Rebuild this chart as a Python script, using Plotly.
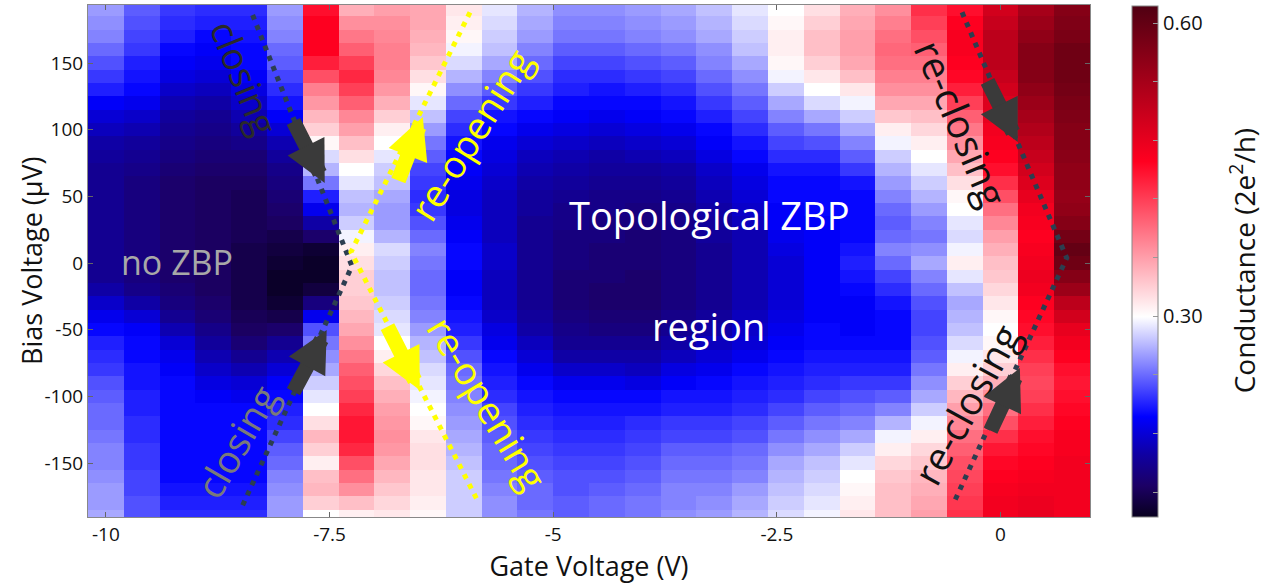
import numpy as np
import plotly.graph_objects as go

# ---------------- data ----------------
gate_voltage = [-10.0, -9.6, -9.2, -8.8, -8.4, -8.0, -7.6, -7.2, -6.8, -6.4,
                -6.0, -5.6, -5.2, -4.8, -4.4, -4.0, -3.6, -3.2, -2.8, -2.4,
                -2.0, -1.6, -1.2, -0.8, -0.4, 0.0, 0.4, 0.8]

bias_voltage = [190, 180, 170, 160, 150, 140, 130, 120, 110, 100,
                90, 80, 70, 60, 50, 40, 30, 20, 10, 0,
                -10, -20, -30, -40, -50, -60, -70, -80, -90, -100,
                -110, -120, -130, -140, -150, -160, -170, -180, -190]

# conductance (2e^2/h) per gate-voltage column, listed from +190 uV down to -190 uV
c00 = [0.26,0.255,0.25,0.24,0.23,0.22,0.21,0.195,0.18,0.17,0.16,0.155,0.15,0.15,0.15,0.15,0.15,0.15,0.15,0.15,0.15,0.16,0.175,0.19,0.2,0.21,0.215,0.22,0.23,0.235,0.24,0.24,0.245,0.25,0.25,0.255,0.26,0.26,0.265]
c01 = [0.235,0.23,0.225,0.22,0.21,0.205,0.2,0.19,0.175,0.165,0.155,0.15,0.145,0.14,0.14,0.14,0.14,0.14,0.14,0.14,0.14,0.145,0.16,0.18,0.195,0.2,0.2,0.205,0.205,0.21,0.21,0.215,0.215,0.22,0.22,0.225,0.225,0.23,0.23]
c02 = [0.22,0.215,0.21,0.2,0.195,0.185,0.175,0.165,0.155,0.15,0.145,0.14,0.135,0.13,0.13,0.13,0.13,0.13,0.13,0.13,0.13,0.135,0.14,0.15,0.165,0.18,0.19,0.195,0.2,0.2,0.2,0.2,0.2,0.2,0.2,0.2,0.205,0.21,0.215]
c03 = [0.215,0.21,0.2,0.195,0.19,0.18,0.17,0.16,0.15,0.145,0.14,0.135,0.13,0.125,0.125,0.125,0.125,0.125,0.125,0.125,0.125,0.125,0.13,0.135,0.145,0.155,0.165,0.175,0.185,0.195,0.2,0.2,0.2,0.2,0.2,0.2,0.205,0.21,0.215]
c04 = [0.215,0.21,0.205,0.2,0.2,0.195,0.185,0.175,0.165,0.155,0.145,0.135,0.13,0.125,0.12,0.12,0.12,0.12,0.115,0.115,0.115,0.115,0.115,0.12,0.125,0.135,0.15,0.165,0.18,0.19,0.2,0.2,0.2,0.2,0.2,0.2,0.205,0.21,0.215]
c05 = [0.26,0.255,0.25,0.24,0.235,0.225,0.215,0.205,0.195,0.18,0.165,0.155,0.145,0.14,0.135,0.13,0.125,0.115,0.11,0.105,0.10,0.10,0.105,0.115,0.13,0.15,0.165,0.18,0.195,0.2,0.21,0.215,0.225,0.235,0.24,0.25,0.255,0.26,0.26]
c06 = [0.45,0.46,0.46,0.46,0.44,0.41,0.38,0.365,0.345,0.33,0.305,0.285,0.27,0.245,0.21,0.19,0.16,0.13,0.105,0.10,0.10,0.11,0.14,0.19,0.23,0.245,0.255,0.265,0.28,0.29,0.30,0.32,0.345,0.33,0.31,0.34,0.345,0.33,0.30]
c07 = [0.35,0.37,0.385,0.40,0.42,0.435,0.42,0.40,0.375,0.36,0.34,0.32,0.30,0.29,0.275,0.27,0.28,0.295,0.31,0.32,0.33,0.33,0.335,0.345,0.355,0.37,0.385,0.40,0.41,0.42,0.435,0.445,0.445,0.435,0.41,0.39,0.37,0.34,0.31]
c08 = [0.36,0.37,0.375,0.38,0.38,0.375,0.365,0.35,0.33,0.31,0.30,0.29,0.28,0.275,0.265,0.26,0.26,0.27,0.285,0.28,0.275,0.275,0.28,0.285,0.29,0.30,0.31,0.325,0.34,0.35,0.36,0.365,0.37,0.365,0.355,0.345,0.335,0.325,0.315]
c09 = [0.355,0.355,0.35,0.345,0.335,0.32,0.305,0.29,0.275,0.26,0.245,0.235,0.225,0.22,0.215,0.22,0.23,0.24,0.25,0.245,0.24,0.24,0.245,0.25,0.26,0.27,0.275,0.285,0.29,0.295,0.30,0.305,0.315,0.32,0.32,0.315,0.315,0.31,0.305]
c10 = [0.315,0.31,0.305,0.295,0.285,0.27,0.255,0.24,0.225,0.215,0.205,0.2,0.195,0.19,0.185,0.185,0.19,0.195,0.2,0.2,0.195,0.195,0.2,0.205,0.21,0.22,0.23,0.24,0.245,0.25,0.255,0.26,0.265,0.27,0.275,0.28,0.28,0.28,0.28]
c11 = [0.29,0.285,0.28,0.275,0.265,0.25,0.235,0.22,0.205,0.2,0.19,0.185,0.18,0.175,0.17,0.17,0.17,0.17,0.175,0.175,0.17,0.17,0.17,0.175,0.185,0.19,0.2,0.205,0.21,0.215,0.225,0.23,0.235,0.24,0.24,0.245,0.25,0.255,0.255]
c12 = [0.27,0.265,0.26,0.25,0.24,0.23,0.22,0.21,0.2,0.19,0.18,0.17,0.165,0.16,0.155,0.155,0.15,0.15,0.15,0.15,0.15,0.15,0.15,0.155,0.16,0.17,0.18,0.19,0.2,0.205,0.21,0.215,0.22,0.225,0.23,0.235,0.24,0.24,0.245]
c13 = [0.255,0.25,0.245,0.235,0.225,0.215,0.21,0.2,0.195,0.185,0.175,0.165,0.16,0.155,0.15,0.145,0.145,0.14,0.14,0.14,0.135,0.135,0.135,0.14,0.145,0.15,0.16,0.175,0.19,0.2,0.205,0.21,0.215,0.22,0.225,0.23,0.23,0.235,0.235]
c14 = [0.255,0.25,0.245,0.235,0.225,0.215,0.205,0.2,0.19,0.18,0.17,0.16,0.155,0.15,0.145,0.145,0.14,0.14,0.135,0.135,0.135,0.13,0.13,0.135,0.14,0.15,0.16,0.175,0.19,0.2,0.205,0.21,0.215,0.22,0.225,0.23,0.235,0.24,0.24]
c15 = [0.26,0.255,0.25,0.24,0.23,0.22,0.21,0.2,0.195,0.185,0.175,0.165,0.155,0.15,0.145,0.14,0.14,0.135,0.135,0.135,0.13,0.13,0.13,0.135,0.14,0.15,0.16,0.17,0.185,0.2,0.205,0.215,0.22,0.225,0.23,0.235,0.24,0.245,0.245]
c16 = [0.265,0.26,0.255,0.245,0.235,0.225,0.215,0.205,0.2,0.19,0.18,0.17,0.16,0.155,0.15,0.145,0.145,0.14,0.14,0.14,0.14,0.14,0.14,0.145,0.15,0.16,0.17,0.185,0.195,0.205,0.21,0.22,0.225,0.235,0.24,0.245,0.25,0.25,0.255]
c17 = [0.275,0.27,0.265,0.255,0.25,0.24,0.23,0.22,0.21,0.2,0.195,0.185,0.175,0.17,0.165,0.16,0.155,0.155,0.15,0.15,0.15,0.15,0.15,0.155,0.16,0.17,0.18,0.19,0.2,0.205,0.21,0.22,0.225,0.235,0.24,0.245,0.25,0.255,0.26]
c18 = [0.29,0.285,0.28,0.275,0.265,0.255,0.245,0.235,0.225,0.215,0.205,0.2,0.19,0.185,0.18,0.175,0.17,0.165,0.165,0.165,0.165,0.165,0.165,0.17,0.175,0.18,0.19,0.2,0.205,0.21,0.215,0.225,0.23,0.24,0.245,0.25,0.26,0.265,0.27]
c19 = [0.30,0.305,0.31,0.31,0.305,0.295,0.28,0.265,0.25,0.235,0.225,0.215,0.205,0.2,0.2,0.195,0.195,0.19,0.185,0.18,0.18,0.18,0.18,0.185,0.19,0.195,0.2,0.205,0.21,0.215,0.225,0.235,0.245,0.255,0.265,0.27,0.275,0.28,0.285]
c20 = [0.32,0.33,0.34,0.34,0.33,0.315,0.3,0.285,0.265,0.245,0.23,0.215,0.205,0.2,0.2,0.2,0.195,0.195,0.195,0.195,0.195,0.195,0.195,0.195,0.2,0.2,0.205,0.21,0.215,0.225,0.235,0.245,0.255,0.265,0.275,0.28,0.285,0.29,0.295]
c21 = [0.35,0.355,0.36,0.36,0.355,0.34,0.315,0.295,0.28,0.265,0.25,0.235,0.22,0.205,0.2,0.2,0.2,0.2,0.205,0.21,0.205,0.2,0.195,0.195,0.195,0.2,0.205,0.21,0.22,0.23,0.24,0.25,0.265,0.28,0.29,0.3,0.305,0.31,0.315]
c22 = [0.37,0.38,0.39,0.395,0.39,0.38,0.37,0.355,0.335,0.31,0.295,0.28,0.27,0.26,0.25,0.24,0.235,0.24,0.25,0.24,0.225,0.215,0.205,0.2,0.2,0.2,0.205,0.21,0.22,0.235,0.25,0.27,0.295,0.31,0.325,0.335,0.34,0.34,0.34]
c23 = [0.43,0.42,0.41,0.40,0.39,0.38,0.37,0.355,0.34,0.325,0.31,0.30,0.29,0.28,0.27,0.26,0.25,0.245,0.255,0.265,0.25,0.24,0.23,0.225,0.225,0.23,0.235,0.245,0.255,0.265,0.28,0.295,0.31,0.325,0.335,0.345,0.35,0.355,0.36]
c24 = [0.45,0.46,0.465,0.465,0.46,0.455,0.44,0.42,0.40,0.385,0.37,0.355,0.34,0.32,0.305,0.30,0.29,0.285,0.295,0.31,0.29,0.275,0.265,0.27,0.275,0.285,0.295,0.31,0.33,0.345,0.36,0.375,0.39,0.40,0.41,0.415,0.42,0.425,0.43]
c25 = [0.50,0.51,0.52,0.52,0.52,0.51,0.5,0.49,0.48,0.47,0.465,0.46,0.45,0.43,0.41,0.39,0.375,0.36,0.35,0.34,0.335,0.325,0.315,0.305,0.30,0.305,0.315,0.33,0.35,0.37,0.39,0.41,0.43,0.445,0.455,0.46,0.465,0.47,0.47]
c26 = [0.54,0.55,0.56,0.57,0.57,0.57,0.56,0.55,0.54,0.53,0.52,0.51,0.5,0.49,0.48,0.47,0.465,0.46,0.465,0.47,0.475,0.47,0.46,0.455,0.45,0.44,0.43,0.42,0.415,0.42,0.43,0.44,0.45,0.455,0.46,0.465,0.47,0.475,0.48]
c27 = [0.57,0.575,0.58,0.59,0.59,0.59,0.585,0.58,0.575,0.57,0.57,0.565,0.56,0.56,0.555,0.56,0.57,0.585,0.6,0.59,0.57,0.55,0.52,0.50,0.48,0.47,0.46,0.45,0.445,0.45,0.455,0.46,0.465,0.465,0.47,0.47,0.47,0.47,0.47]

columns = [c00, c01, c02, c03, c04, c05, c06, c07, c08, c09, c10, c11, c12, c13,
           c14, c15, c16, c17, c18, c19, c20, c21, c22, c23, c24, c25, c26, c27]

x_tickvals = [-10, -7.5, -5, -2.5, 0]
x_ticktext = ["-10", "-7.5", "-5", "-2.5", "0"]
y_tickvals = [-150, -100, -50, 0, 50, 100, 150]
y_ticktext = ["-150", "-100", "-50", "0", "50", "100", "150"]
cb_tickvals = [0.12, 0.18, 0.24, 0.30, 0.36, 0.42, 0.48, 0.54, 0.60]
cb_ticktext = ["", "", "", "0.30", "", "", "", "", "0.60"]

# ---------------- figure ----------------
z = np.array(columns).T[::-1]          # rows ascending in bias
y_rows = bias_voltage[::-1]

zmin, zmax = 0.095, 0.618
colorscale = [
    [0.0, "rgb(8,0,30)"],
    [0.06, "rgb(28,0,100)"],
    [0.12, "rgb(16,0,160)"],
    [0.196, "rgb(0,0,255)"],
    [0.392, "rgb(255,255,255)"],
    [0.696, "rgb(255,0,32)"],
    [1.0, "rgb(80,0,18)"],
]

font_family = "Open Sans"

fig = go.Figure()
fig.add_trace(go.Heatmap(
    x=gate_voltage, y=y_rows, z=z,
    colorscale=colorscale, zmin=zmin, zmax=zmax,
    hoverinfo="skip",
    colorbar=dict(
        x=1.042, xanchor="left", xpad=0, y=0.5, yanchor="middle", ypad=0,
        thickness=26, thicknessmode="pixels", len=511, lenmode="pixels",
        outlinecolor="#888", outlinewidth=1,
        tickvals=cb_tickvals, ticktext=cb_ticktext,
        ticks="inside", ticklen=5, tickcolor="#999",
        tickfont=dict(size=20, color="#111"),
    ),
))

fig.update_layout(
    width=1265, height=584,
    margin=dict(l=88, r=175, t=5, b=67, autoexpand=False),
    paper_bgcolor="white", plot_bgcolor="white",
    font=dict(family=font_family, size=20, color="#111"),
    xaxis=dict(range=[-10.2, 1.0], tickvals=x_tickvals, ticktext=x_ticktext,
               ticks="inside", ticklen=5, tickcolor="#666",
               showline=True, linecolor="#888", linewidth=1, mirror="ticks",
               showgrid=False, zeroline=False, automargin=False,
               tickfont=dict(size=19),
               title=dict(text="Gate Voltage (V)", font=dict(size=27), standoff=4)),
    yaxis=dict(range=[-190.5, 193.5], tickvals=y_tickvals, ticktext=y_ticktext,
               ticks="inside", ticklen=5, tickcolor="#666",
               showline=True, linecolor="#888", linewidth=1, mirror="ticks",
               showgrid=False, zeroline=False, automargin=False,
               tickfont=dict(size=19)),
)

# axis / colorbar titles placed as paper annotations
fig.add_annotation(x=-0.057, y=0.5, xref="paper", yref="paper", text="Bias Voltage (μV)",
                   showarrow=False, textangle=-90, xanchor="center", yanchor="middle",
                   font=dict(family=font_family, size=27, color="#111"))
fig.add_annotation(x=1.152, y=0.5, xref="paper", yref="paper",
                   text="Conductance (2e<sup>2</sup>/h)",
                   showarrow=False, textangle=-90, xanchor="center", yanchor="middle",
                   font=dict(family=font_family, size=28, color="#111"))

# dotted guide lines (data coordinates)
dark_dot = dict(color="#2c3e50", width=5, dash="5px,6px")
yellow_dot = dict(color="#ffff00", width=5, dash="5px,6px")
guide_paths = [
    ("M -8.36,186 L -7.25,-2.3 L -8.48,-183", dark_dot),
    ("M -5.93,188 L -7.26,8.3 L -5.84,-179", yellow_dot),
    ("M -0.43,188 L 0.74,3.8 L -0.51,-178", dark_dot),
]
for p, ln in guide_paths:
    fig.add_shape(type="path", path=p, xref="x", yref="y", line=ln, layer="above")

# labels
labels = [
    ("no ZBP", -9.21, 0.8, 0, "#a8a8a8", 34),
    ("Topological ZBP", -3.25, 36, 0, "white", 38),
    ("region", -3.26, -47, 0, "white", 38),
    ("closing", -8.45, 139, 68, "#2a2a2a", 37),
    ("closing", -8.55, -134, -60, "#7a7a7a", 38),
    ("re-opening", -5.93, 96, -58, "#ffff00", 38),
    ("re-opening", -5.73, -105, 59, "#ffff00", 38),
    ("re-closing", -0.43, 105, 67, "#111111", 39),
    ("re-closing", -0.39, -106, -61, "#111111", 39),
]
for txt, x, y, ang, col, sz in labels:
    fig.add_annotation(x=x, y=y, xref="x", yref="y", text=txt, showarrow=False,
                       textangle=ang, font=dict(family=font_family, size=sz, color=col))

# block arrows: tip in data coords, tail offset in pixels
arrows = [
    (-7.554, 60.0, -32, -63, "#3a3a3a"),
    (-7.532, -50.3, -34, 63, "#3a3a3a"),
    (-6.458, 109.5, -25, 65, "#ffff00"),
    (-6.492, -95.3, -33, -65, "#ffff00"),
    (0.193, 90.8, -31, -62, "#3a3a3a"),
    (0.216, -78.8, -30, 64, "#3a3a3a"),
]
for x, y, ax, ay, col in arrows:
    fig.add_annotation(x=x, y=y, xref="x", yref="y", ax=ax, ay=ay, text="",
                       showarrow=True, arrowhead=2, arrowsize=0.55, arrowwidth=15,
                       arrowcolor=col, standoff=0)

fig.write_html("out.html", config={"displayModeBar": False},
               post_script="document.body.style.margin='0';document.body.style.overflow='hidden';")
